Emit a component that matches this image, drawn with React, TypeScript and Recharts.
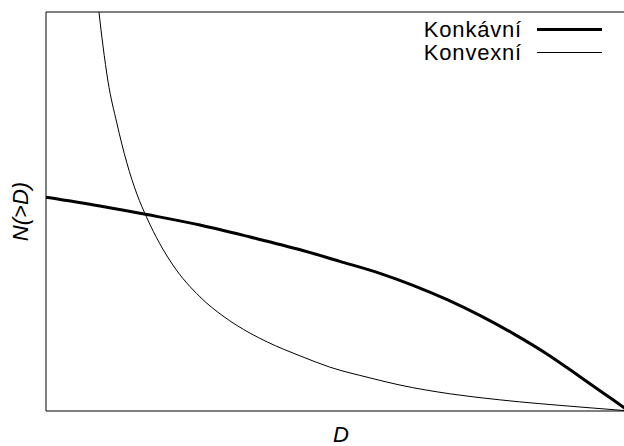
import { LineChart, Line, XAxis, YAxis, ReferenceLine } from 'recharts'

// Cumulative count N(>D) against size D, both normalised to [0, 1]
const concaveD = [0, 0.0915, 0.176, 0.261, 0.346, 0.431, 0.498, 0.566, 0.622, 0.68, 0.736, 0.792, 0.849, 0.905, 0.961, 0.988]
const concaveN = [0.536, 0.514, 0.491, 0.466, 0.436, 0.404, 0.375, 0.345, 0.315, 0.279, 0.239, 0.194, 0.143, 0.086, 0.028, 0]

const convexD = [0.0864, 0.0898, 0.0966, 0.105, 0.12, 0.137, 0.154, 0.171, 0.193, 0.215, 0.261, 0.3, 0.346, 0.375, 0.431, 0.481, 0.549, 0.6, 0.685, 0.769, 0.905, 0.99]
const convexN = [1.05, 1.0, 0.915, 0.827, 0.722, 0.622, 0.544, 0.484, 0.419, 0.366, 0.286, 0.238, 0.195, 0.173, 0.138, 0.11, 0.083, 0.065, 0.043, 0.028, 0.01, 0]

const SERIES_NAMES = ['Konkávní', 'Konvexní']

const concaveData = concaveD.map((d, i) => ({ d, n: concaveN[i] }))
const convexData = convexD.map((d, i) => ({ d, n: convexN[i] }))

const FONT = '"Liberation Sans", Arial, Helvetica, sans-serif'

function CurveLegend() {
    const rows = [
        { name: SERIES_NAMES[0], width: 3 },
        { name: SERIES_NAMES[1], width: 1 },
    ]
    return (
        <div
            style={{
                position: 'absolute', top: 18, right: 22,
                fontFamily: FONT, fontSize: 22, letterSpacing: 0.8, color: '#000',
            }}
        >
            {rows.map(r => (
                <div key={r.name} style={{ display: 'flex', alignItems: 'center', justifyContent: 'flex-end', height: 23 }}>
                    <span>{r.name}</span>
                    <span style={{ display: 'inline-block', width: 65, marginLeft: 15, borderTop: `${r.width}px solid #000` }} />
                </div>
            ))}
        </div>
    )
}

export default function App() {
    return (
        <div style={{ position: 'absolute', left: 0, top: 0, width: 624, height: 446, overflow: 'hidden', background: '#fff' }}>
            {/* plot box runs a little past the right edge, so its right border is not visible */}
            <LineChart width={640} height={446} margin={{ top: 12, right: 4, left: 0, bottom: 0 }}>
                <XAxis
                    type="number"
                    dataKey="d"
                    domain={[0, 1]}
                    allowDataOverflow
                    tick={false}
                    tickLine={false}
                    height={35}
                    stroke="#000"
                    label={({ viewBox }: any) => (
                        <text
                            x={viewBox.x + viewBox.width / 2}
                            y={viewBox.y + 31}
                            textAnchor="middle"
                            fontFamily={FONT}
                            fontStyle="italic"
                            fontSize={22}
                            fill="#000"
                        >
                            D
                        </text>
                    )}
                />
                <YAxis
                    type="number"
                    dataKey="n"
                    domain={[0, 1]}
                    allowDataOverflow
                    tick={false}
                    tickLine={false}
                    width={46}
                    stroke="#000"
                    label={({ viewBox }: any) => {
                        const cx = viewBox.x + 28
                        const cy = viewBox.y + viewBox.height / 2
                        return (
                            <text
                                x={cx}
                                y={cy}
                                textAnchor="middle"
                                transform={`rotate(-90 ${cx} ${cy})`}
                                fontFamily={FONT}
                                fontStyle="italic"
                                fontSize={22}
                                fill="#000"
                            >
                                N(&gt;D)
                            </text>
                        )
                    }}
                />
                <ReferenceLine y={1} stroke="#000" strokeWidth={1} />
                <Line
                    data={concaveData}
                    dataKey="n"
                    name={SERIES_NAMES[0]}
                    type="monotone"
                    stroke="#000"
                    strokeWidth={3}
                    dot={false}
                    activeDot={false}
                    isAnimationActive={false}
                />
                <Line
                    data={convexData}
                    dataKey="n"
                    name={SERIES_NAMES[1]}
                    type="monotone"
                    stroke="#000"
                    strokeWidth={1}
                    dot={false}
                    activeDot={false}
                    isAnimationActive={false}
                />
            </LineChart>
            <CurveLegend />
        </div>
    )
}
